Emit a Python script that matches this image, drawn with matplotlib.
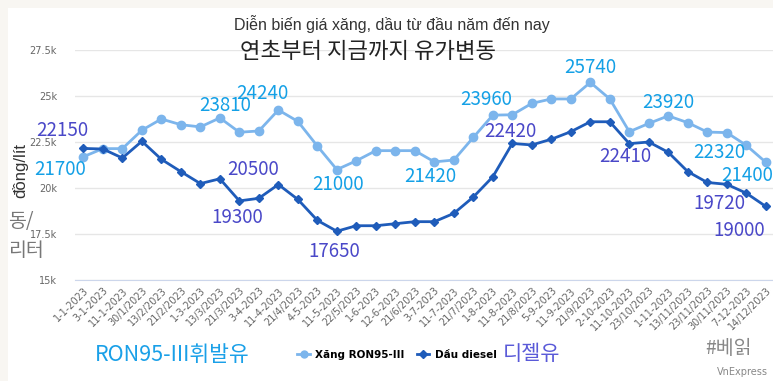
import matplotlib
matplotlib.use("Agg")
import matplotlib.pyplot as plt
from matplotlib.lines import Line2D
from matplotlib.patches import Rectangle

dates = ["1-1-2023", "3-1-2023", "11-1-2023", "30/1/2023", "13/2/2023", "21/2/2023",
         "1-3-2023", "13/3/2023", "21/3/2023", "3-4-2023", "11-4-2023", "21/4/2023",
         "4-5-2023", "11-5-2023", "22/5/2023", "1-6-2023", "12-6-2023", "21/6/2023",
         "3-7-2023", "11-7-2023", "21/7/2023", "1-8-2023", "11-8-2023", "21/8/2023",
         "5-9-2023", "11-9-2023", "21/9/2023", "2-10-2023", "11-10-2023", "23/10/2023",
         "1-11-2023", "13/11/2023", "23/11/2023", "30/11/2023", "7-12-2023", "14/12/2023"]

ron95 = [21700, 22140, 22140, 23140, 23750, 23440, 23320, 23810, 23030, 23100, 24240, 23620,
         22280, 21000, 21480, 22030, 22030, 22030, 21420, 21520, 22750, 23960, 23980, 24600,
         24840, 24840, 25740, 24840, 23060, 23510, 23920, 23550, 23040, 23010, 22320, 21400]

diesel = [22150, 22120, 21630, 22540, 21560, 20890, 20240, 20500, 19300, 19440, 20190, 19380,
          18240, 17650, 17950, 17950, 18060, 18170, 18170, 18620, 19510, 20610, 22420, 22340,
          22650, 23060, 23600, 23600, 22410, 22500, 21940, 20890, 20300, 20200, 19720, 19000]

yticks = [15000, 17500, 20000, 22500, 25000, 27500]
ytick_labels = ["15k", "17.5k", "20k", "22.5k", "25k", "27.5k"]

# indices of labelled points and label offsets (pixels)
ron_lab_idx = [0, 7, 10, 13, 18, 21, 26, 30, 34, 35]
ron_lab_off = [(-23, -13), (5, 12), (-16, 16), (1, -15), (-4, -15), (-7, 16), (0, 15), (0, 13), (-27, -7), (-19, -13)]
die_lab_idx = [0, 7, 8, 13, 22, 28, 34, 35]
die_lab_off = [(-21, 18), (33, 9), (-2, -17), (-3, -20), (-2, 12), (-4, -13), (-27, -10), (-27, -24)]

W, H = 773, 381
fig = plt.figure(figsize=(W / 100, H / 100), dpi=100)
fig.patch.set_facecolor("#f8f6f2")
fig.patches.append(Rectangle((8 / W, 0), 1, 1 - 8 / H, transform=fig.transFigure,
                             facecolor="white", edgecolor="none", zorder=-10))

ax = fig.add_axes([75 / W, 1 - 280 / H, 1 - 75 / W, 230 / H])
ax.set_facecolor("none")
x = list(range(len(dates)))

ron_color = "#7cb5ec"
die_color = "#1f5cba"
ax.plot(x, ron95, color=ron_color, lw=2, marker="o", ms=6, zorder=3)
ax.plot(x, diesel, color=die_color, lw=2, marker="D", ms=4, zorder=3)

ax.set_xlim(-0.43, 35.37)
ax.set_ylim(15000, 27500)
ax.set_yticks(yticks)
ax.set_yticklabels(ytick_labels, fontsize=7, color="#666666")
ax.set_xticks(x)
ax.set_xticklabels(dates, rotation=45, ha="right", rotation_mode="anchor", fontsize=7, color="#666666")
ax.tick_params(axis="both", length=0, pad=4)
ax.tick_params(axis="y", pad=13)
ax.grid(axis="y", color="#e6e6e6", lw=1)
ax.set_axisbelow(True)
for s in ["top", "right", "left"]:
    ax.spines[s].set_visible(False)
ax.spines["bottom"].set_color("#ccd6eb")

numfont = ["Noto Sans CJK KR", "DejaVu Sans"]
latin = ["Liberation Sans", "DejaVu Sans"]
for i, (dx, dy) in zip(ron_lab_idx, ron_lab_off):
    ax.annotate(str(ron95[i]), (i, ron95[i]), xytext=(dx, dy), textcoords="offset pixels",
                ha="center", va="center", fontsize=13.5, color="#14a0e6", family=numfont, zorder=5)
for i, (dx, dy) in zip(die_lab_idx, die_lab_off):
    ax.annotate(str(diesel[i]), (i, diesel[i]), xytext=(dx, dy), textcoords="offset pixels",
                ha="center", va="center", fontsize=13.5, color="#4a48c8", family=numfont, zorder=5)

fig.text(392 / W, 1 - 24 / H, "Diễn biến giá xăng, dầu từ đầu năm đến nay", ha="center", va="center",
         fontsize=11.5, color="#333333", family=latin)
fig.text(368 / W, 1 - 51 / H, "연초부터 지금까지 유가변동", ha="center", va="center",
         fontsize=16, color="#222222", family=numfont)
fig.text(20 / W, 1 - 170 / H, "đồng/lít", ha="center", va="center", rotation=90,
         fontsize=12, color="#333333", family=latin)
fig.text(8 / W, 1 - 221 / H, "동/", ha="left", va="center", fontsize=14,
         color="#777777", family=numfont)
fig.text(8 / W, 1 - 251 / H, "리터", ha="left", va="center", fontsize=14,
         color="#777777", family=numfont)

fig.text(95 / W, 1 - 355 / H, "RON95-III휘발유", ha="left", va="center", fontsize=15.5,
         color="#1aa0e8", family=numfont)
fig.text(503 / W, 1 - 354 / H, "디젤유", ha="left", va="center", fontsize=15,
         color="#5a5ad8", family=numfont)
fig.text(705 / W, 1 - 349 / H, "#베읽", ha="left", va="center", fontsize=14,
         color="#888888", family=numfont)
fig.text(768 / W, 1 - 372 / H, "VnExpress", ha="right", va="center", fontsize=7,
         color="#888888")

handles = [Line2D([0], [0], color=ron_color, lw=2, marker="o", ms=5),
           Line2D([0], [0], color=die_color, lw=2, marker="D", ms=4)]
fig.legend(handles, ["Xăng RON95-III", "Dầu diesel"], loc="center",
           bbox_to_anchor=(397 / W, 1 - 355 / H), ncol=2, frameon=False,
           prop={"size": 7.5, "weight": "bold"}, handlelength=1.2, columnspacing=1.2,
           handletextpad=0.5)

fig.savefig("out.png", dpi=100)
